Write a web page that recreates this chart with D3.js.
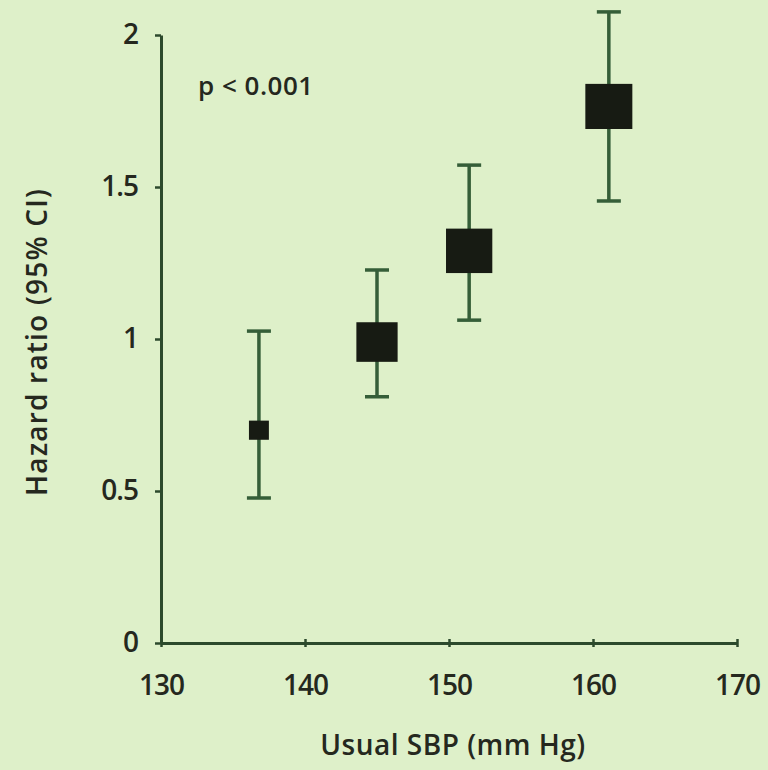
<!DOCTYPE html>
<html>
<head>
<meta charset="utf-8">
<script src="https://cdn.jsdelivr.net/npm/d3@7"></script>
<style>
  html, body { margin: 0; padding: 0; background: #def0c9; }
  svg { display: block; }
</style>
</head>
<body>
<svg id="vis"></svg>
<script>
const width = 768;
const height = 770;
const margin = { top: 35, bottom: 127, left: 161, right: 31 };

// data
const sbp = [136.8, 145.0, 151.4, 161.1];
const hr = [0.70, 0.99, 1.29, 1.765];
const lower = [0.477, 0.81, 1.062, 1.454];
const upper = [1.026, 1.227, 1.572, 2.076];
const weight = [0.18, 0.77, 0.97, 1.0];   // relative precision -> box area

const xTicks = [130, 140, 150, 160, 170];
const yTicks = [0, 0.5, 1, 1.5, 2];

const svg = d3.select("svg#vis")
  .attr("width", width)
  .attr("height", height);

const plot = svg.append("g")
  .attr("transform", translate(margin.left, margin.top));

const w = width - margin.left - margin.right;
const h = height - margin.top - margin.bottom;

const x = d3.scaleLinear().domain([130, 170]).range([0, w]);
const y = d3.scaleLinear().domain([0, 2]).range([h, 0]);
const size = d3.scaleSqrt().domain([0, 1]).range([0, 47]);

const data = sbp.map((d, i) => ({ sbp: d, hr: hr[i], lo: lower[i], hi: upper[i], wt: weight[i] }));

const axisColor = "#2c4a2c";
const barColor = "#355e38";
const textColor = "#25281e";
const font = "'Open Sans', sans-serif";

// x axis
const xAxis = plot.append("g")
  .attr("transform", translate(0, h))
  .call(d3.axisBottom(x).tickValues(xTicks).tickSize(5).tickSizeOuter(0).tickFormat(d3.format("d")));
xAxis.select(".domain").attr("stroke", axisColor).attr("stroke-width", 3);
xAxis.selectAll(".tick line").attr("stroke", axisColor).attr("stroke-width", 2.5).attr("y1", -4).attr("y2", 4);
xAxis.selectAll(".tick text")
  .attr("y", 52)
  .attr("dy", 0)
  .style("font-family", font)
  .style("font-size", "28px")
  .style("letter-spacing", "-1px")
  .style("font-weight", 600)
  .style("fill", textColor);

// y axis
const yAxis = plot.append("g")
  .call(d3.axisLeft(y).tickValues(yTicks).tickSize(6).tickSizeOuter(0).tickFormat(d => d));
yAxis.select(".domain").attr("stroke", axisColor).attr("stroke-width", 3);
yAxis.selectAll(".tick line").attr("stroke", axisColor).attr("stroke-width", 2.5);
yAxis.selectAll(".tick text")
  .attr("x", -23)
  .style("font-family", font)
  .style("font-size", "28px")
  .style("letter-spacing", "-1px")
  .style("font-weight", 600)
  .style("fill", textColor);

// error bars
const bars = plot.selectAll(".ci")
  .data(data)
  .enter()
  .append("g")
  .attr("class", "ci")
  .attr("stroke", barColor)
  .attr("stroke-width", 3.5);

bars.append("line")
  .attr("x1", d => x(d.sbp)).attr("x2", d => x(d.sbp))
  .attr("y1", d => y(d.lo)).attr("y2", d => y(d.hi));
bars.append("line")
  .attr("x1", d => x(d.sbp) - 12).attr("x2", d => x(d.sbp) + 12)
  .attr("y1", d => y(d.hi)).attr("y2", d => y(d.hi));
bars.append("line")
  .attr("x1", d => x(d.sbp) - 12).attr("x2", d => x(d.sbp) + 12)
  .attr("y1", d => y(d.lo)).attr("y2", d => y(d.lo));

// boxes
plot.selectAll(".box")
  .data(data)
  .enter()
  .append("rect")
  .attr("class", "box")
  .attr("x", d => x(d.sbp) - size(d.wt) / 2)
  .attr("y", d => y(d.hr) - size(d.wt) * 0.96 / 2)
  .attr("width", d => size(d.wt))
  .attr("height", d => size(d.wt) * 0.96)
  .style("fill", "#171b13");

// annotation
svg.append("text")
  .attr("x", 198)
  .attr("y", 95)
  .text("p < 0.001")
  .style("font-family", font)
  .style("font-size", "26px")
  .style("letter-spacing", "0.5px")
  .style("font-weight", 600)
  .style("fill", textColor);

// axis titles
svg.append("text")
  .attr("x", 453)
  .attr("y", 755)
  .attr("text-anchor", "middle")
  .text("Usual SBP (mm Hg)")
  .style("font-family", font)
  .style("font-size", "28px")
  .style("letter-spacing", "0.5px")
  .style("font-weight", 600)
  .style("fill", textColor);

svg.append("text")
  .attr("transform", translate(47, 342) + " rotate(-90)")
  .attr("text-anchor", "middle")
  .text("Hazard ratio (95% CI)")
  .style("font-family", font)
  .style("font-size", "28px")
  .style("letter-spacing", "1.2px")
  .style("font-weight", 600)
  .style("fill", textColor);

function translate(x, y) {
  return "translate(" + String(x) + "," + String(y) + ")";
}
</script>
</body>
</html>
